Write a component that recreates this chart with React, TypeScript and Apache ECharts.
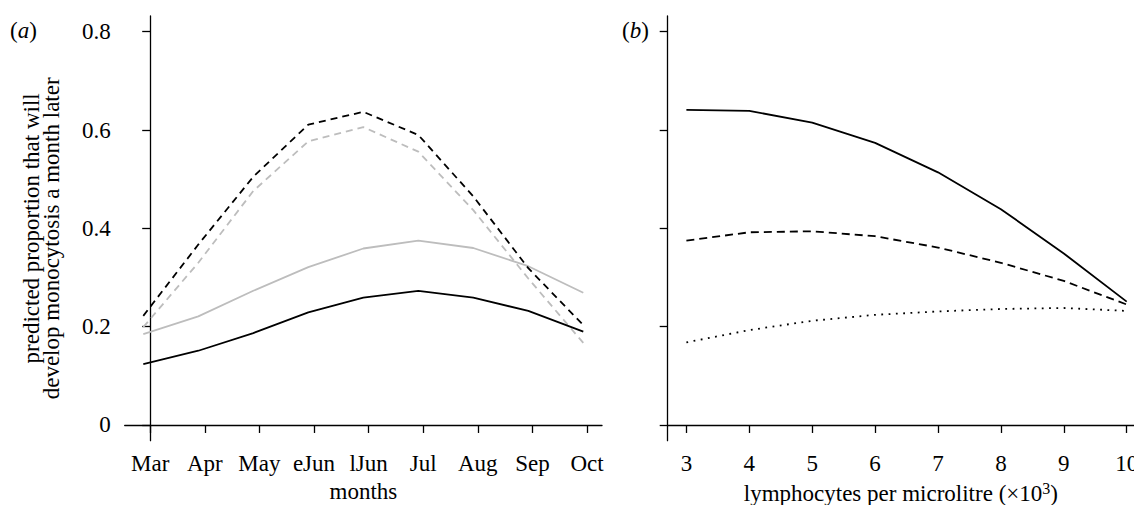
import React, { useEffect, useRef } from "react";
import * as echarts from "echarts";

const months = ["Mar", "Apr", "May", "eJun", "lJun", "Jul", "Aug", "Sep", "Oct"];
const monthIdx = [0, 1, 2, 3, 4, 5, 6, 7, 8];
const yTicks = [0, 0.2, 0.4, 0.6, 0.8];

// panel (a)
const aBlackSolid = [0.124, 0.151, 0.187, 0.229, 0.259, 0.273, 0.259, 0.232, 0.19];
const aGraySolid = [0.185, 0.221, 0.273, 0.321, 0.359, 0.375, 0.36, 0.323, 0.269];
const aBlackDashed = [0.222, 0.367, 0.505, 0.611, 0.637, 0.59, 0.465, 0.319, 0.203];
const aGrayDashed = [0.199, 0.33, 0.476, 0.577, 0.606, 0.556, 0.437, 0.298, 0.167];

// panel (b)
const lymph = [3, 4, 5, 6, 7, 8, 9, 10];
const bSolid = [0.641, 0.639, 0.615, 0.574, 0.514, 0.439, 0.349, 0.251];
const bDashed = [0.375, 0.392, 0.394, 0.384, 0.361, 0.33, 0.293, 0.245];
const bDotted = [0.168, 0.193, 0.212, 0.224, 0.231, 0.236, 0.238, 0.232];

const FONT = "Liberation Serif";
const FS = 23;

export default function App() {
  const ref = useRef<HTMLDivElement>(null);
  useEffect(() => {
    if (!ref.current) return;
    const chart = echarts.init(ref.current, null, { renderer: "svg" });
    const axisLine = { show: true, lineStyle: { color: "#000", width: 1.3 } };
    const axisTick = (vals: number[]) => ({
      show: true,
      inside: false,
      length: 8,
      customValues: vals,
      lineStyle: { color: "#000", width: 1.3 },
    });
    const yAxisCommon = {
      type: "value",
      min: -0.032,
      max: 0.832,
      splitLine: { show: false },
      axisLine,
      axisTick: axisTick(yTicks),
    };
    const txt = { fontFamily: FONT, fontSize: FS, color: "#000", lineHeight: 20 };
    const pair = (xs: number[], ys: number[]) => xs.map((x, i) => [x, ys[i]]);
    chart.setOption({
      animation: false,
      grid: [
        { left: 124.7, right: 532, top: 16, bottom: 64.3, containLabel: false, outerBoundsMode: "none" },
        { left: 667.7, right: 0, top: 16, bottom: 64.3, containLabel: false, outerBoundsMode: "none" },
      ],
      xAxis: [
        {
          gridIndex: 0,
          type: "value",
          min: -0.467,
          max: 8.275,
          splitLine: { show: false },
          axisLine,
          axisTick: axisTick(monthIdx),
          axisLabel: {
            customValues: monthIdx,
            formatter: (v: number) => months[Math.round(v)] ?? "",
            fontFamily: FONT,
            fontSize: FS,
            color: "#000",
            margin: 11,
          },
          name: "months",
          nameLocation: "middle",
          nameGap: 39,
          nameTextStyle: { fontFamily: FONT, fontSize: FS, color: "#000" },
        },
        {
          gridIndex: 0,
          type: "value",
          min: -0.338,
          max: 8.34,
          show: false,
        },
        {
          gridIndex: 1,
          type: "value",
          min: 2.703,
          max: 10.116,
          splitLine: { show: false },
          axisLine,
          axisTick: axisTick(lymph),
          axisLabel: {
            customValues: lymph,
            fontFamily: FONT,
            fontSize: FS,
            color: "#000",
            margin: 11,
          },
          name: "lymphocytes per microlitre (×10{sup|3})",
          nameLocation: "middle",
          nameGap: 40,
          nameTextStyle: {
            fontFamily: FONT,
            fontSize: FS,
            color: "#000",
            rich: {
              sup: { fontFamily: FONT, fontSize: 16, color: "#000", verticalAlign: "top", padding: [0, 0, 9, 0] },
            },
          },
        },
      ],
      yAxis: [
        {
          ...yAxisCommon,
          gridIndex: 0,
          axisLabel: {
            customValues: yTicks,
            formatter: (v: number) => (v === 0 ? "0" : v.toFixed(1)),
            fontFamily: FONT,
            fontSize: FS,
            color: "#000",
            margin: 14,
          },
          name: "{a|predicted proportion that will}\n{b|develop monocytosis a month later}",
          nameLocation: "middle",
          nameGap: 63,
          nameTextStyle: {
            ...txt,
            rich: {
              a: { ...txt },
              b: { ...txt, padding: [0, 20, 0, 0] },
            },
          },
        },
        {
          ...yAxisCommon,
          gridIndex: 1,
          axisLabel: { show: false, customValues: yTicks },
        },
      ],
      graphic: [
        {
          type: "text",
          left: 10,
          top: 19,
          style: {
            text: "({i|a})",
            fontFamily: FONT,
            fontSize: FS,
            fill: "#000",
            rich: { i: { fontStyle: "italic", fontFamily: FONT, fontSize: FS } },
          },
        },
        {
          type: "text",
          left: 622,
          top: 19,
          style: {
            text: "({i|b})",
            fontFamily: FONT,
            fontSize: FS,
            fill: "#000",
            rich: { i: { fontStyle: "italic", fontFamily: FONT, fontSize: FS } },
          },
        },
      ],
      series: [
        {
          type: "line",
          xAxisIndex: 1,
          yAxisIndex: 0,
          data: pair(monthIdx, aGraySolid),
          symbol: "none",
          lineStyle: { color: "#bdbdbd", width: 1.8 },
        },
        {
          type: "line",
          xAxisIndex: 1,
          yAxisIndex: 0,
          data: pair(monthIdx, aGrayDashed),
          symbol: "none",
          lineStyle: { color: "#bdbdbd", width: 1.8, type: [7, 5] },
        },
        {
          type: "line",
          xAxisIndex: 1,
          yAxisIndex: 0,
          data: pair(monthIdx, aBlackDashed),
          symbol: "none",
          lineStyle: { color: "#000", width: 1.8, type: [7, 5] },
        },
        {
          type: "line",
          xAxisIndex: 1,
          yAxisIndex: 0,
          data: pair(monthIdx, aBlackSolid),
          symbol: "none",
          lineStyle: { color: "#000", width: 1.8 },
        },
        {
          type: "line",
          xAxisIndex: 2,
          yAxisIndex: 1,
          data: pair(lymph, bSolid),
          symbol: "none",
          lineStyle: { color: "#000", width: 1.8 },
        },
        {
          type: "line",
          xAxisIndex: 2,
          yAxisIndex: 1,
          data: pair(lymph, bDashed),
          symbol: "none",
          lineStyle: { color: "#000", width: 1.8, type: [8, 5] },
        },
        {
          type: "line",
          xAxisIndex: 2,
          yAxisIndex: 1,
          data: pair(lymph, bDotted),
          symbol: "none",
          lineStyle: { color: "#000", width: 1.8, type: [1.8, 5.5] },
        },
      ],
    });
    return () => chart.dispose();
  }, []);
  return (
    <div
      ref={ref}
      style={{ position: "fixed", left: 0, top: 0, width: 1134, height: 505, background: "#fff" }}
    />
  );
}
